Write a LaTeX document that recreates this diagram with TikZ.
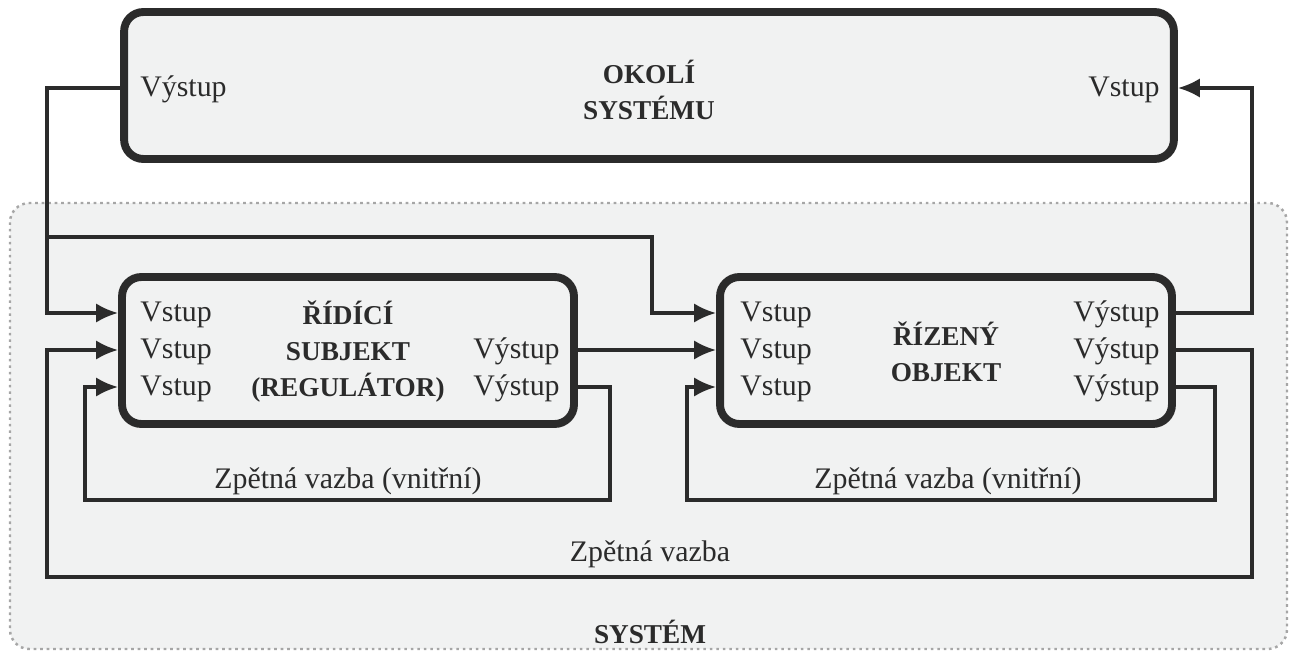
\documentclass[tikz,border=0pt]{standalone}
\usepackage{fontspec}
\setmainfont{Liberation Serif}
\usetikzlibrary{math,calc,arrows.meta}
\definecolor{pozadi}{HTML}{F1F2F2}
\definecolor{cara}{HTML}{2B2B2B}

\begin{document}
\begin{tikzpicture}[>/.tip={Latex[length=12.5pt,width=11pt]},x=0.02cm,y=-0.02cm,
    blok/.style={draw=cara,line width=4.5pt,rounded corners=11pt,fill=pozadi,
      minimum width=9.04cm,minimum height=2.94cm},
    spoj/.style={draw=cara,line width=2pt},
    popis/.style={text=cara,font=\fontsize{17}{20}\selectfont,inner sep=0pt,
      text height=13pt,text depth=3pt},
    nadpis/.style={text=cara,font=\fontsize{15.5}{20.5}\selectfont\bfseries,align=center}]
    % Rows of the ports
    \tikzmath{\ra=313;\rb=350;\rc=387;\rv=88;}
    \useasboundingbox (0,0) rectangle (1291,652);
    % The system
    \draw[gray!70,line width=1.4pt,dash pattern=on 1.5pt off 2.2pt,rounded corners=11pt,
      fill=pozadi] (10,203) rectangle (1287,649);
    \node[nadpis] (system) at (650,632) {SYSTÉM};

    % The blocks
    \node[blok,minimum width=21cm] (okoli) at (649,85.5) {};
    \node[blok] (ridici) at (348,350.5) {};
    \node[blok] (rizeny) at (946,350.5) {};
    \node[nadpis] (okoli-t) at (649,90) {OKOLÍ\\SYSTÉMU};
    \node[nadpis] (ridici-t) at (348,352) {ŘÍDÍCÍ\\SUBJEKT\\(REGULÁTOR)};
    \node[nadpis] (rizeny-t) at (946,352) {ŘÍZENÝ\\OBJEKT};

    % The ports
    \node[popis,anchor=west] (ok-vyst) at (140,\rv) {Výstup};
    \node[popis,anchor=east] (ok-vst) at (1160,\rv) {Vstup};
    \foreach \r [count=\i] in {\ra,\rb,\rc} {
      \node[popis,anchor=west] (rs-vst\i) at (140,\r) {Vstup};
      \node[popis,anchor=west] (ro-vst\i) at (740,\r) {Vstup};
      \node[popis,anchor=east] (ro-vyst\i) at (1160,\r) {Výstup};
    }
    \node[popis,anchor=east] (rs-vyst1) at (560,\rb) {Výstup};
    \node[popis,anchor=east] (rs-vyst2) at (560,\rc) {Výstup};

    % The connections
    \coordinate (odbocka) at (47,237);
    \draw[spoj,->] (okoli.west |- ok-vyst) -| (odbocka) |- (ridici.west |- rs-vst1);
    \draw[spoj,->] (odbocka) -| (652,\ra) -- (rizeny.west |- ro-vst1);
    \draw[spoj,->] (rizeny.east |- ro-vyst1) -| (1252,\rv) -- (okoli.east |- ok-vst);
    \draw[spoj,->] (ridici.east |- rs-vyst1) -- (rizeny.west |- ro-vst2);
    \draw[spoj,->] (ridici.east |- rs-vyst2) -| (610,500) -| (85,\rc) -- (ridici.west |- rs-vst3);
    \draw[spoj,->] (rizeny.east |- ro-vyst3) -| (1215,500) -| (687,\rc) -- (rizeny.west |- ro-vst3);
    \draw[spoj,->] (rizeny.east |- ro-vyst2) -| (1252,577) -| (47,\rb) -- (ridici.west |- rs-vst2);

    % The feedback labels
    \node[popis] (vazba-rs) at (348,480) {Zpětná vazba (vnitřní)};
    \node[popis] (vazba-ro) at (948,480) {Zpětná vazba (vnitřní)};
    \node[popis] (vazba) at (650,553) {Zpětná vazba};
\end{tikzpicture}
\end{document}
